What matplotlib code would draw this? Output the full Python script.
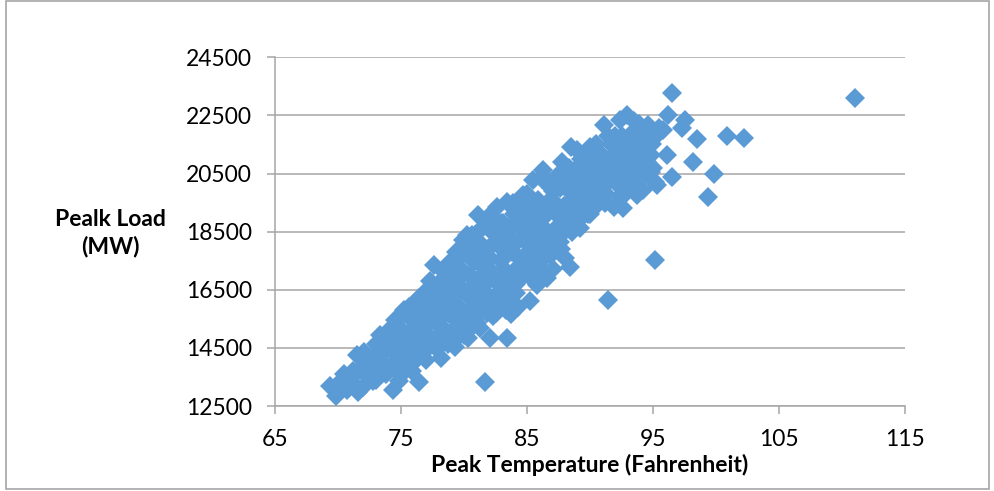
import matplotlib
matplotlib.use("Agg")
import matplotlib.pyplot as plt
from matplotlib.patches import Rectangle

plt.rcParams['font.family'] = ['Lato', 'DejaVu Sans']

# Daily peak temperature (F) and peak load (MW)
temperature = [
    69.4, 69.8, 70.2, 70.7, 70.9, 71.6, 71.3, 72.0, 71.5, 72.1, 71.8, 72.4, 72.6,
    73.0, 73.3, 73.2, 73.5, 73.8, 73.9, 74.4, 74.3, 74.5, 74.6, 74.8, 74.2,
    72.8, 73.6, 74.0, 74.7, 72.9, 73.4, 74.9, 75.1,
    75.2, 75.0, 75.3, 75.5, 75.7, 75.9, 75.4, 76.1, 76.4, 76.0, 76.2, 76.5, 76.7, 76.9, 76.6,
    75.6, 75.8, 76.3, 76.8, 77.1, 77.7, 77.1, 76.3, 77.9, 78.1, 77.5, 78.4,
    77.0, 77.2, 77.3, 77.5, 77.6, 77.4, 77.8, 77.9, 78.0, 78.2, 78.3, 78.5, 78.6, 78.8, 78.9, 78.7,
    78.4, 78.6, 79.1, 79.4, 79.1, 79.6, 79.9, 80.0, 80.3, 80.6, 80.8, 80.1, 80.5, 79.4,
    79.0, 79.2, 79.3, 79.5, 79.6, 79.7, 79.9, 79.8, 80.0, 80.1, 80.3, 80.2, 80.4, 80.5, 80.6, 80.7, 80.8, 80.9,
    81.1, 81.3, 81.6, 81.9, 81.7, 82.1, 82.4, 82.4, 82.8, 83.1, 83.3, 83.5, 83.8, 83.9, 83.2, 84.0, 84.4, 84.3,
    81.0, 81.1, 81.2, 81.3, 81.4, 81.5, 81.6, 81.7, 81.8, 81.9, 82.0, 82.1, 82.2, 82.3, 82.5, 82.6, 82.7, 82.8, 82.9,
    83.0, 83.1, 83.2, 83.4, 83.4, 83.5, 83.6, 83.7, 83.8, 84.0, 84.1, 84.2, 84.3, 84.5, 84.6, 84.7, 84.8, 84.9,
    84.6, 84.9, 85.1, 85.3, 85.6, 85.7, 86.0, 86.2, 86.4, 86.8, 86.5, 86.9, 85.4,
    85.0, 85.1, 85.2, 85.3, 85.5, 85.6, 85.8, 85.8, 85.9, 86.0, 86.1, 86.3, 86.4, 86.6, 86.6, 86.7, 86.9,
    87.3, 87.6, 87.9, 88.3, 88.5, 88.8, 89.0, 89.1, 89.5, 89.9, 88.0, 87.7,
    87.0, 87.1, 87.2, 87.4, 87.5, 87.6, 87.8, 87.9, 88.0, 88.1, 88.2, 88.4, 88.5, 88.6, 88.7, 88.9,
    89.0, 89.2, 89.3, 89.4, 89.6, 89.7, 89.8, 90.0, 90.0, 90.2, 90.3, 90.5, 90.6, 90.8, 90.9,
    90.4, 90.7, 91.0, 91.3, 91.6, 92.0, 92.1, 92.5, 93.0, 92.8, 93.3,
    91.1, 91.0, 91.2, 91.45, 91.5, 91.7, 91.8, 91.9, 92.0, 92.2, 92.4, 92.4, 92.6, 92.7, 92.9,
    93.1, 93.2, 93.4, 93.6, 93.7, 93.7, 93.9, 94.0, 94.2, 94.3, 94.6, 94.8, 94.8,
    93.9, 94.4, 94.2, 94.9, 93.5,
    77.0, 76.6, 77.8, 78.2, 78.9, 79.3, 79.8, 80.4, 81.0, 81.4, 82.0, 81.6, 82.6, 83.0,
    83.5, 84.0, 84.4, 84.8, 85.2, 85.5, 86.1, 86.6, 87.1, 87.4, 87.9, 88.3, 88.8, 89.3,
    89.7, 90.2, 90.6, 91.0, 91.4, 92.0, 92.6, 93.1, 93.6, 94.1, 94.5, 95.0, 91.3, 92.3,
    90.1, 89.1, 86.2, 85.0, 83.9, 82.9, 82.2, 80.9, 80.2, 79.5, 78.6, 77.3, 76.4, 75.6,
    74.9, 74.1, 73.0, 72.3, 71.2, 70.5, 72.8, 74.8, 75.9, 76.9, 78.0, 79.0, 80.0, 81.3,
    82.3, 83.2, 84.1, 85.0, 86.1, 87.3, 88.6, 90.0,
    81.3, 82.5, 80.5, 84.0, 86.0, 84.8, 87.2, 83.3, 87.6, 90.0, 91.6, 86.0, 89.2,
    78.9, 78.1, 76.5, 74.9, 73.3, 71.7, 92.8, 94.0, 90.8, 88.4, 86.8, 84.4,
    95.0, 95.16, 95.16, 95.3, 95.5, 95.8, 96.1, 96.2, 96.5, 96.5, 97.3, 97.5, 98.2, 98.5,
    99.4, 99.8, 100.85, 102.2, 111.0,
]
peak_load = [
    13200, 12850, 13350, 13050, 13500, 12990, 13250, 13150, 14250, 14370, 13750, 13550, 13950,
    13400, 14940, 13680, 14250, 13600, 14600, 13050, 13900, 15450, 14300, 14800, 15100,
    14200, 13900, 14900, 13700, 13700, 14600, 15200, 14350,
    15800, 13550, 14100, 14550, 15050, 15450, 13850, 16090, 13320, 14000, 14700, 15200, 15650, 16430, 14350,
    14800, 15700, 15500, 15000, 15300, 15800, 16300, 14300, 16600, 15500, 14700, 14700,
    14100, 14900, 15550, 16000, 17350, 16600, 14500, 15300, 15900, 14150, 16300, 16900, 15000, 15650, 17460, 14650,
    17100, 16000, 15600, 16000, 17100, 14900, 17000, 15700, 18000, 15900, 16200, 16400, 17600, 17800,
    16200, 16800, 14540, 15300, 17300, 15850, 18210, 16500, 14950, 17750, 14840, 15600, 16250, 17000, 18400, 15300, 16700, 17500,
    17700, 15700, 16300, 19000, 16900, 17600, 16000, 18900, 16400, 17600, 15800, 18000, 16800, 19500, 18500, 17000, 18200, 15900,
    15350, 19070, 16000, 18100, 16600, 17300, 18700, 13340, 15700, 17900, 16300, 14830, 18500, 17000, 15700, 19350, 16700, 18000, 17500,
    16100, 18800, 17200, 14850, 19530, 16500, 18300, 15650, 17800, 19100, 16400, 18900, 17300, 16900, 18600, 19760, 17700, 19300,
    17300, 18300, 19600, 17800, 18200, 19300, 19000, 17900, 18600, 19500, 20300, 17700, 16900,
    18100, 17000, 16110, 19000, 20270, 17500, 16660, 18500, 19600, 17300, 18900, 20620, 19300, 16900, 17700, 18300, 20000,
    19300, 20000, 18500, 19500, 20300, 19200, 21300, 19800, 20700, 20200, 19100, 17900,
    19600, 17200, 18600, 20400, 19000, 18150, 20900, 19400, 17600, 20200, 18700, 17270, 21420, 19800, 20600, 18900,
    20100, 18610, 21000, 19500, 21130, 20400, 19100, 21420, 19950, 20800, 19300, 21530, 20500, 20160, 19700,
    20000, 21100, 19900, 20700, 21000, 20200, 21400, 21800, 20500, 19800, 21200,
    22160, 21100, 19500, 16145, 20300, 21500, 20900, 19350, 21800, 20600, 22340, 20270, 19300, 21200, 22510,
    21700, 20000, 20730, 21990, 21530, 19760, 22200, 20270, 19930, 21300, 22160, 20560, 21130,
    20700, 21700, 20600, 21500, 22300,
    15700, 15900, 16100, 16800, 16400, 16600, 15600, 15100, 16100, 17000, 17200, 17600, 18200, 17000,
    16200, 18100, 17600, 18800, 18600, 19000, 18200, 19100, 19900, 18200, 20300, 20700, 20000, 20200,
    19600, 19600, 21000, 20500, 21800, 21000, 20800, 20900, 20400, 21000, 20900, 20700, 19800, 19700,
    21100, 18900, 20300, 19800, 18700, 18800, 19000, 18400, 18400, 17600, 17300, 16800, 16200, 15900,
    15550, 15150, 14650, 14100, 13700, 13600, 13350, 13350, 13700, 14400, 14900, 15000, 15300, 15200,
    15600, 16300, 16700, 17300, 17800, 18100, 18500, 19100,
    15970, 16320, 16490, 16830, 17180, 17520, 17860, 18040, 19070, 19930, 20270, 18550, 19580,
    15800, 15290, 15110, 14600, 14080, 13740, 20620, 20960, 20790, 20270, 19580, 18720,
    21700, 20210, 17530, 20100, 22050, 21990, 21130, 22510, 20390, 23275, 22050, 22335, 20900, 21700,
    19680, 20500, 21800, 21710, 23100,
]

x_ticks = [65, 75, 85, 95, 105, 115]
y_ticks = [12500, 14500, 16500, 18500, 20500, 22500, 24500]

fig = plt.figure(figsize=(9.94, 4.91), dpi=100)
ax = fig.add_axes([0.2767, 0.1731, 0.6338, 0.7102])

ax.plot(temperature, peak_load, linestyle='none', marker='D', markersize=10.4,
        color='#5B9BD5', markeredgewidth=0, zorder=3)

ax.set_xlim(x_ticks[0], x_ticks[-1])
ax.set_ylim(y_ticks[0], y_ticks[-1])
ax.set_xticks(x_ticks)
ax.set_yticks(y_ticks)
ax.set_xticklabels([str(t) for t in x_ticks])
ax.set_yticklabels([str(t) for t in y_ticks])

ax.yaxis.grid(True, color='#A6A6A6', linewidth=1.1, zorder=0)
ax.set_axisbelow(True)
for side in ('top', 'right'):
    ax.spines[side].set_visible(False)
for side in ('left', 'bottom'):
    ax.spines[side].set_color('#A6A6A6')
    ax.spines[side].set_linewidth(1.1)

ax.tick_params(axis='both', direction='out', length=5.5, width=1.1, color='#A6A6A6',
               labelsize=16.5, labelcolor='#000000')
ax.tick_params(axis='y', pad=11)
ax.tick_params(axis='x', pad=11)

ax.set_xlabel('Peak Temperature (Fahrenheit)', fontsize=16.5, fontweight='bold', labelpad=3)
fig.text(0.111, 0.525, 'Pealk Load\n(MW)', ha='center', va='center', fontsize=16.5,
         fontweight='bold', linespacing=1.3)

# thin frame round the whole chart area
fig.add_artist(Rectangle((0.006, 0.004), 0.989, 0.993, transform=fig.transFigure,
                         fill=False, edgecolor='#A6A6A6', linewidth=1.2))

fig.savefig('out.png', dpi=100)
